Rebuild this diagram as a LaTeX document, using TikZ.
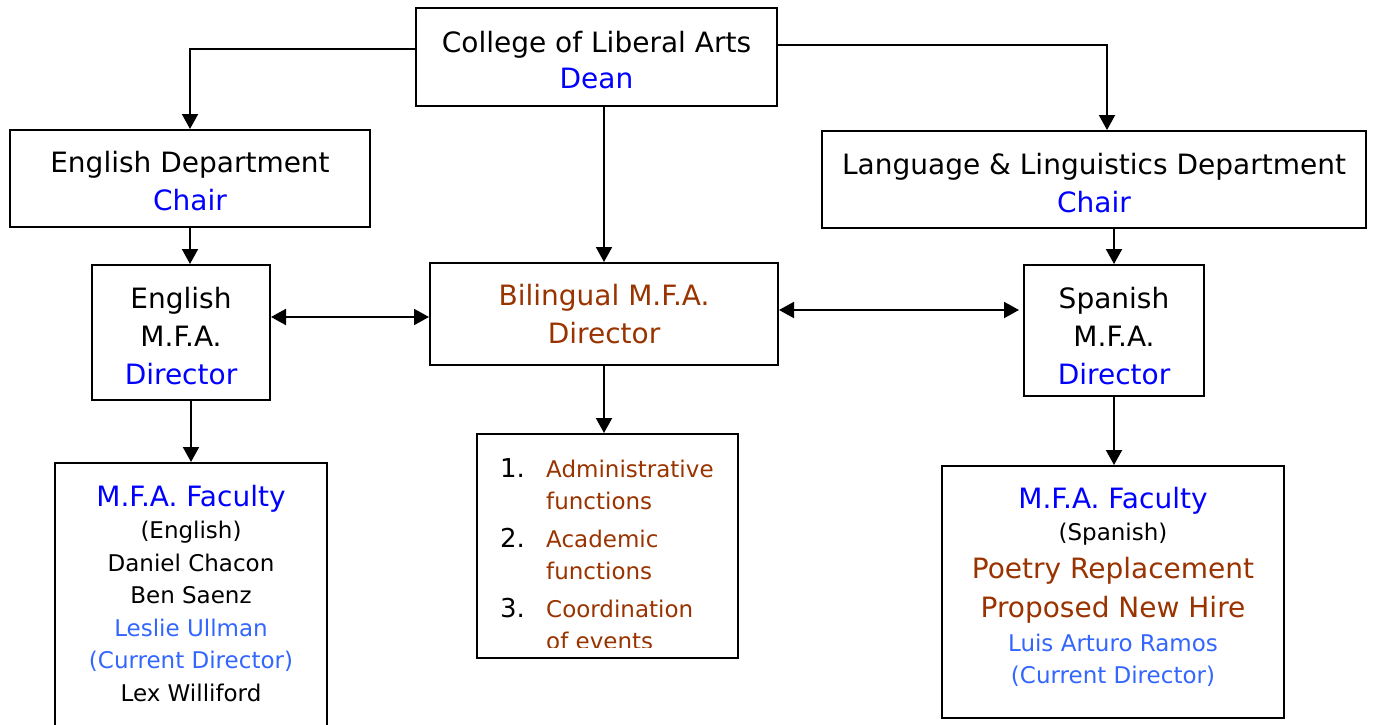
\documentclass[tikz,border=0pt]{standalone}
\usepackage{fontspec}
\usepackage{xcolor}
\usetikzlibrary{arrows.meta,positioning}
\setmainfont{DejaVu Sans}
\definecolor{headblue}{RGB}{0,0,255}
\definecolor{mfabrown}{RGB}{153,51,0}
\definecolor{nowblue}{RGB}{51,102,255}
\newcommand{\largeline}[1]{{\fontsize{28}{38}\selectfont #1}}
\newcommand{\listno}[1]{\makebox[46pt][l]{\fontsize{26}{32}\selectfont #1}}
\newcommand{\topgap}[1]{\rule{0pt}{#1pt}}

\begin{document}
\begin{tikzpicture}[x=1pt,y=-1pt,
    box/.style={draw,line width=2pt,inner sep=0pt,align=center,font=\fontsize{28}{38}\selectfont},
    arr/.style={line width=2pt,-{Triangle[length=15pt,width=16pt]}},
    dblarr/.style={line width=2pt,{Triangle[length=15pt,width=16pt]}-{Triangle[length=15pt,width=16pt]}}]
        \useasboundingbox (0,0) rectangle (1373,725);
        \node[box,minimum width=361pt,minimum height=98pt,font=\fontsize{28}{36}\selectfont](college) at (596.5,57) {\topgap{27}College of Liberal Arts\\\textcolor{headblue}{Dean}};
        \node[box,minimum width=360pt,minimum height=97pt](engdept) at (190,178.5) {\topgap{27}English Department\\\textcolor{headblue}{Chair}};
        \node[box,minimum width=544pt,minimum height=97pt](lang) at (1094,179.5) {\topgap{29}Language \& Linguistics Department\\\textcolor{headblue}{Chair}};
        \node[box,minimum width=178pt,minimum height=135pt](engmfa) at (181,332.5) {\topgap{28}English\\M.F.A.\\\textcolor{headblue}{Director}};
        \node[box,minimum width=348pt,minimum height=102pt,text=mfabrown](bil) at (604,314) {Bilingual M.F.A.\\Director};
        \node[box,minimum width=180pt,minimum height=131pt](span) at (1114,330.5) {\topgap{33}Spanish\\M.F.A.\\\textcolor{headblue}{Director}};
        \node[box,minimum width=261pt,minimum height=224pt](list) at (607.5,546) {};
        \begin{scope}
        \clip (480,437) rectangle (736,647);
        \node[anchor=north west,inner sep=0pt,align=left,font=\fontsize{23}{32}\selectfont](listtext) at (500,458) {\listno{1.}\textcolor{mfabrown}{Administrative}\\\listno{}\textcolor{mfabrown}{functions}\\[6pt]\listno{2.}\textcolor{mfabrown}{Academic}\\\listno{}\textcolor{mfabrown}{functions}\\[6pt]\listno{3.}\textcolor{mfabrown}{Coordination}\\\listno{}\textcolor{mfabrown}{of events}};
        \end{scope}
        \node[box,minimum width=272pt,minimum height=300pt](engfac) at (191,613) {};
        \node[below=23pt of engfac.north,inner sep=0pt,align=center,font=\fontsize{23}{32.5}\selectfont](engfactext) {\largeline{\textcolor{headblue}{M.F.A. Faculty}}\\(English)\\Daniel Chacon\\Ben Saenz\\\textcolor{nowblue}{Leslie Ullman}\\\textcolor{nowblue}{(Current Director)}\\Lex Williford};
        \node[box,minimum width=342pt,minimum height=252pt](spanfac) at (1113,592) {};
        \node[below=22pt of spanfac.north,inner sep=0pt,align=center,font=\fontsize{23}{32}\selectfont](spanfactext) {\largeline{\textcolor{headblue}{M.F.A. Faculty}}\\(Spanish)\\[6pt]\largeline{\textcolor{mfabrown}{Poetry Replacement}}\\[7pt]\largeline{\textcolor{mfabrown}{Proposed New Hire}}\\[2pt]\textcolor{nowblue}{Luis Arturo Ramos}\\\textcolor{nowblue}{(Current Director)}};
        \draw[arr]([yshift=8pt]college.west)-|(engdept.north);
        \draw[arr]([yshift=12pt]college.east)-|([xshift=13pt]lang.north);
        \draw[arr](bil.north|-college.south)--(bil.north);
        \draw[arr](engdept.south)--(engdept.south|-engmfa.north);
        \draw[arr](span.north|-lang.south)--(span.north);
        \draw[dblarr]([yshift=-3pt]engmfa.east|-bil.west)--([yshift=-3pt]bil.west);
        \draw[dblarr]([yshift=4pt]bil.east)--([yshift=4pt,xshift=-4pt]bil.east-|span.west);
        \draw[arr](bil.south)--(bil.south|-list.north);
        \draw[arr](engfac.north|-engmfa.south)--(engfac.north);
        \draw[arr](span.south)--(span.south|-spanfac.north);
        \end{tikzpicture}
\end{document}
